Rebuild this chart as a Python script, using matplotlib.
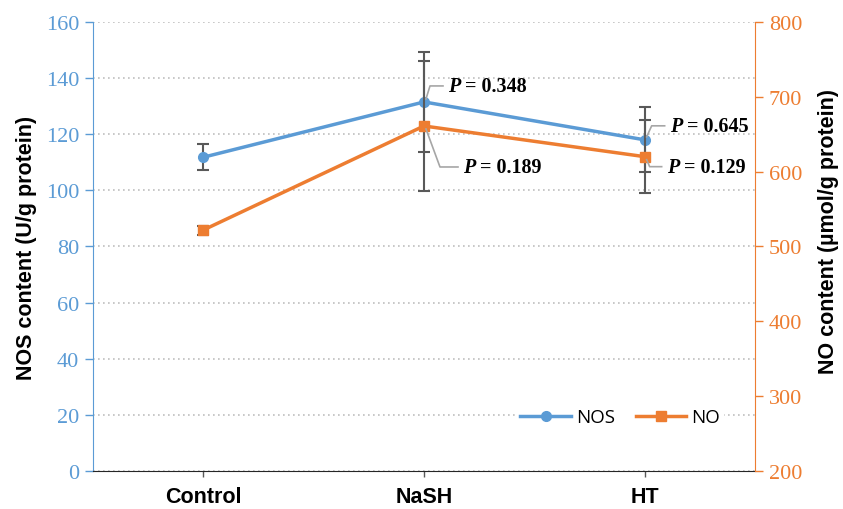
import matplotlib
matplotlib.use("Agg")
import matplotlib.pyplot as plt
from matplotlib.lines import Line2D
from matplotlib.transforms import IdentityTransform

# Data
groups = ["Control", "NaSH", "HT"]
nos_mean = [111.8, 131.5, 118.0]
nos_err = [4.6, 17.8, 11.6]
no_mean = [522, 661, 620]
no_err = [6, 87, 49]
p_nos = ["0.348", "0.645"]
p_no = ["0.189", "0.129"]

blue = "#5B9BD5"
orange = "#ED7D31"
gray = "#595959"

fig = plt.figure(figsize=(8.43, 5.10), dpi=100)
ax = fig.add_axes([0.1103, 0.0745, 0.7853, 0.8805])
ax2 = ax.twinx()

x = list(range(len(groups)))

# NOS on left axis
ax.errorbar(x, nos_mean, yerr=nos_err, fmt="none", ecolor=gray, elinewidth=1.5,
            capsize=4.5, capthick=1.5, zorder=3)
ax.plot(x, nos_mean, color=blue, lw=2.5, marker="o", ms=7, zorder=4)

# NO on right axis
ax2.errorbar(x, no_mean, yerr=no_err, fmt="none", ecolor=gray, elinewidth=1.5,
             capsize=4.5, capthick=1.5, zorder=3)
ax2.plot(x, no_mean, color=orange, lw=2.5, marker="s", ms=7, zorder=4)

ax.set_xlim(-0.5, 2.5)
ax.set_ylim(0, 160)
ax.set_yticks(range(0, 161, 20))
ax2.set_ylim(200, 800)
ax2.set_yticks(range(200, 801, 100))

ax.yaxis.grid(True, color="#BFBFBF", linestyle=(0, (1, 2)), lw=1.2)
ax.set_axisbelow(True)

for a in (ax, ax2):
    a.spines["top"].set_visible(False)
ax.spines["right"].set_visible(False)
ax2.spines["left"].set_visible(False)
ax2.spines["bottom"].set_visible(False)
ax.spines["left"].set_color(blue)
ax.spines["bottom"].set_color("#262626")
ax2.spines["right"].set_color(orange)

serif = "Liberation Serif"
sans = "Liberation Sans"

ax.tick_params(axis="y", colors=blue, labelsize=16, direction="out", length=6, width=1, pad=4)
ax.tick_params(axis="x", length=4, width=1, color="#595959", pad=7)
ax2.tick_params(axis="y", colors=orange, labelsize=16, direction="out", length=6, width=1, pad=4)
for lab in ax.get_yticklabels() + ax2.get_yticklabels():
    lab.set_fontfamily(serif)

ax.set_xticks(x)
ax.set_xticklabels(groups, fontfamily=sans, fontweight="bold", fontsize=15.5)

ax.set_ylabel("NOS content (U/g protein)", fontfamily=sans, fontweight="bold",
              fontsize=15.5, labelpad=6)
ax2.set_ylabel("NO content (\u00b5mol/g protein)", fontfamily=sans, fontweight="bold",
               fontsize=15.5, labelpad=6)
ax2.yaxis.set_label_coords(1.095, 0.535)

# Legend
handles = [Line2D([], [], color=blue, lw=2.5, marker="o", ms=7),
           Line2D([], [], color=orange, lw=2.5, marker="s", ms=7)]
leg = ax.legend(handles, ["NOS", "NO"], loc="lower right", bbox_to_anchor=(0.967, 0.07),
                ncol=2, frameon=True, facecolor="white", edgecolor="none",
                handlelength=2.7, columnspacing=1.1, handletextpad=0.27,
                prop={"family": "Open Sans", "size": 13.5}, borderpad=0.2)
leg.get_frame().set_alpha(1)


def p_label(axis, xi, yi, dx1, dy1, dx2, value):
    # leader line in pixel offsets from the data point, then the label
    px, py = axis.transData.transform((xi, yi))
    xs = [px + 2, px + dx1, px + dx2]
    ys = [py + (3 if dy1 > 0 else -3), py + dy1, py + dy1]
    fig.add_artist(Line2D(xs, ys, transform=IdentityTransform(), color="#A6A6A6", lw=1.2))
    t = fig.text((px + dx2 + 5) / fig.bbox.width, (py + dy1) / fig.bbox.height, "P",
                 fontfamily=serif, fontweight="bold", fontstyle="italic", fontsize=14.5,
                 va="center", ha="left")
    ax.annotate(" = " + value, xy=(1, 0.5), xycoords=t, va="center", ha="left",
                fontfamily=serif, fontweight="bold", fontsize=14.5, annotation_clip=False)


fig.canvas.draw()
p_label(ax, 1, nos_mean[1], 6, 16, 19, p_nos[0])
p_label(ax2, 1, no_mean[1], 16, -41, 34, p_no[0])
p_label(ax, 2, nos_mean[2], 7, 14, 20, p_nos[1])
p_label(ax2, 2, no_mean[2], 5, -10, 17, p_no[1])

fig.savefig("out.png", dpi=100)
